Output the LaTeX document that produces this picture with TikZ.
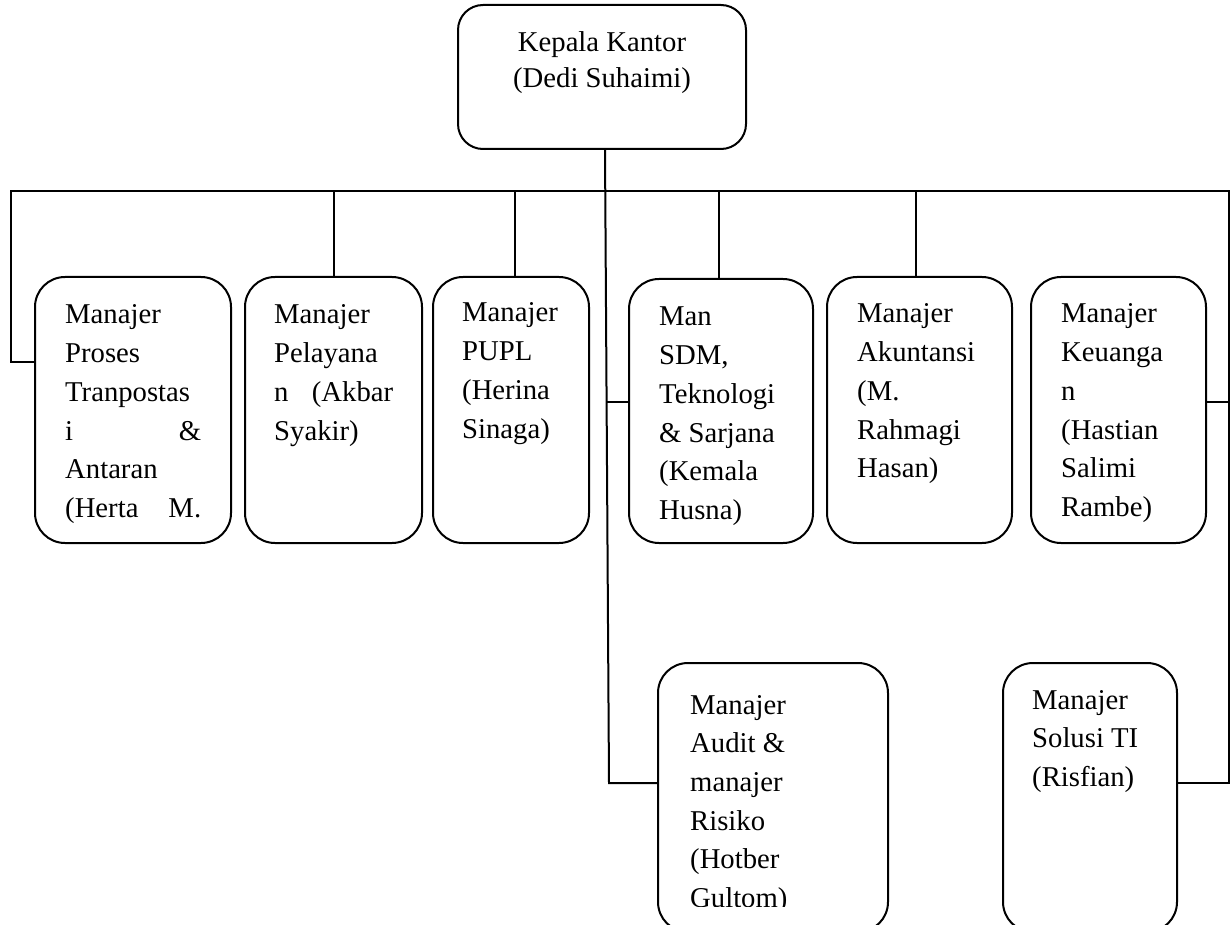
\documentclass[tikz,border=0pt]{standalone}
\usepackage{fontspec}
\setmainfont{Liberation Serif}
\usetikzlibrary{fit}
\tikzset{
  box/.style={draw, line width=2pt, rounded corners=30pt, inner sep=0pt},
  topbox/.style={box, rounded corners=25pt},
  conn/.style={line width=2pt},
  txt/.style={anchor=base west, inner sep=0pt, font=\fontsize{28.7}{38.7}\selectfont},
  toptxt/.style={anchor=base, inner sep=0pt, font=\fontsize{28.7}{36}\selectfont},
}
\begin{document}
\begin{tikzpicture}[x=1pt,y=-1pt]
\useasboundingbox (0,0) rectangle (1232,925);
\clip (0,0) rectangle (1232,925);
\fill[white] (0,0) rectangle (1232,925);

% boxes
\node[topbox, fit={(458,5) (746,149)}] (top) {};
\node[box, fit={(35,277) (231,543)}] (b1) {};
\node[box, fit={(245,277) (422,543)}] (b2) {};
\node[box, fit={(433,277) (589,543)}] (b3) {};
\node[box, fit={(629,279) (813,543)}] (b4) {};
\node[box, fit={(827,277) (1012,543)}] (b5) {};
\node[box, fit={(1031,277) (1206,543)}] (b6) {};
\node[box, fit={(658,663) (888,932)}] (audit) {};
\node[box, fit={(1003,663) (1177,932)}] (solusi) {};

% texts
\node[toptxt] (ttop) at (602,52) {\parbox[t]{300pt}{\centering Kepala Kantor\\(Dedi Suhaimi)}};
\node[txt] (t1) at (65,324) {\parbox[t]{136pt}{Manajer\\Proses\\Tranpostas\\i\hfill\&\\Antaran\\(Herta\hfill M.}};
\node[txt] (t2) at (274,324) {\parbox[t]{119pt}{Manajer\\Pelayana\\n\hfill(Akbar\\Syakir)}};
\node[txt] (t3) at (462,322) {\parbox[t]{110pt}{Manajer\\PUPL\\(Herina\\Sinaga)}};
\node[txt] (t4) at (659,326) {\parbox[t]{130pt}{Man\\SDM,\\Teknologi\\\& Sarjana\\(Kemala\\Husna)}};
\node[txt] (t5) at (857,323) {\parbox[t]{130pt}{Manajer\\Akuntansi\\(M.\\Rahmagi\\Hasan)}};
\node[txt] (t6) at (1061,323) {\parbox[t]{120pt}{Manajer\\Keuanga\\n\\(Hastian\\Salimi\\Rambe)}};
\begin{scope}
\clip (650,660) rectangle (890,906);
\node[txt] (t7) at (690,714) {\parbox[t]{120pt}{Manajer\\Audit \&\\manajer\\Risiko\\(Hotber\\Gultom)}};
\end{scope}
\node[txt] (t8) at (1032,709) {\parbox[t]{130pt}{Manajer\\Solusi TI\\(Risfian)}};

% connectors
\coordinate (busL) at (11,191);
\coordinate (busR) at (1229,191);
\coordinate (cl) at (11,362);
\coordinate (cr1) at (1229,402);
\coordinate (cr2) at (1229,783);
\coordinate (cbot) at (609,783);
\coordinate (csdm) at (606.5,402);

\draw[conn] (cl -| b1.west) -- (cl) -- (busL) -- (busR) -- (cr2) -- (cr2 -| solusi.east);
\draw[conn] ([xshift=3pt]top.south) -- (cbot) -- (cbot -| audit.west);
\draw[conn] (csdm) -- (csdm -| b4.west);
\draw[conn] (cr1) -- (cr1 -| b6.east);
\draw[conn] (b2.north) -- (b2.north |- busL);
\draw[conn] ([xshift=4pt]b3.north) -- ([xshift=4pt]b3.north |- busL);
\draw[conn] ([xshift=-2pt]b4.north) -- ([xshift=-2pt]b4.north |- busL);
\draw[conn] ([xshift=-3.5pt]b5.north) -- ([xshift=-3.5pt]b5.north |- busL);
\end{tikzpicture}
\end{document}
